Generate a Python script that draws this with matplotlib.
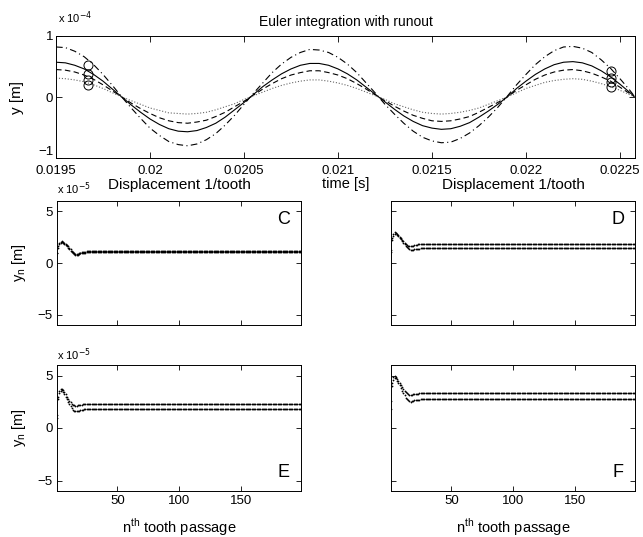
import numpy as np
import matplotlib
matplotlib.use("Agg")
import matplotlib.pyplot as plt

plt.rcParams['font.family'] = ['Liberation Sans', 'DejaVu Sans']
plt.rcParams['xtick.direction'] = 'in'
plt.rcParams['ytick.direction'] = 'in'
plt.rcParams['xtick.top'] = True
plt.rcParams['ytick.right'] = True

# ---- top panel: time signals (units of 1e-4 m) ----
t_start = 0.0195
t_step = 0.00005
t_end = 0.02258
time_s = list(np.round(t_start + t_step * np.arange(62), 6)) + [t_end]

y_solid = [0.57, 0.56, 0.52, 0.46, 0.37, 0.26, 0.13, 0.00, -0.13, -0.25, -0.36,
           -0.45, -0.52, -0.56, -0.57, -0.55, -0.50, -0.43, -0.33, -0.21, -0.09,
           0.04, 0.17, 0.28, 0.38, 0.46, 0.52, 0.55, 0.55, 0.52, 0.46, 0.38, 0.28,
           0.16, 0.04,
           -0.08, -0.20, -0.31, -0.40, -0.47, -0.51, -0.53, -0.52, -0.48, -0.42,
           -0.33, -0.23, -0.12,
           0.00, 0.14, 0.26, 0.37, 0.46, 0.53, 0.57, 0.58, 0.56, 0.51, 0.43, 0.33,
           0.21, 0.08, 0.00]
y_dashed = [0.45, 0.44, 0.41, 0.36, 0.29, 0.20, 0.10, 0.00,
            -0.10, -0.19, -0.27, -0.34, -0.39, -0.42, -0.43, -0.41, -0.38, -0.32,
            -0.25, -0.16, -0.07,
            0.03, 0.13, 0.22, 0.30, 0.36, 0.40, 0.43, 0.43, 0.40, 0.36, 0.30, 0.22,
            0.13, 0.03,
            -0.06, -0.15, -0.23, -0.30, -0.35, -0.39, -0.40, -0.39, -0.36, -0.32,
            -0.25, -0.17, -0.09,
            0.00, 0.11, 0.20, 0.29, 0.36, 0.41, 0.44, 0.45, 0.43, 0.39, 0.33, 0.26,
            0.16, 0.06, 0.00]
y_dotted = [0.31, 0.30, 0.28, 0.25, 0.20, 0.14, 0.07, 0.00,
            -0.06, -0.12, -0.18, -0.22, -0.26, -0.27, -0.28, -0.27, -0.25, -0.21,
            -0.16, -0.11, -0.04,
            0.02, 0.08, 0.14, 0.19, 0.23, 0.26, 0.28, 0.28, 0.26, 0.23, 0.19, 0.14,
            0.08, 0.02,
            -0.04, -0.11, -0.16, -0.21, -0.25, -0.27, -0.28, -0.27, -0.25, -0.22,
            -0.18, -0.12, -0.06,
            0.00, 0.07, 0.14, 0.19, 0.24, 0.27, 0.29, 0.30, 0.29, 0.26, 0.22, 0.17,
            0.11, 0.04, 0.00]
y_dashdot = [0.82, 0.81, 0.75, 0.66, 0.53, 0.37, 0.19, 0.00,
             -0.18, -0.35, -0.51, -0.63, -0.73, -0.78, -0.80, -0.77, -0.70, -0.60,
             -0.46, -0.30, -0.12,
             0.06, 0.23, 0.40, 0.54, 0.65, 0.73, 0.78, 0.77, 0.73, 0.65, 0.54, 0.40,
             0.23, 0.06,
             -0.12, -0.28, -0.43, -0.56, -0.66, -0.72, -0.75, -0.74, -0.68, -0.59,
             -0.47, -0.33, -0.17,
             0.01, 0.20, 0.37, 0.53, 0.66, 0.76, 0.82, 0.83, 0.80, 0.73, 0.61, 0.47,
             0.30, 0.12, 0.00]

circ_t = [0.01967, 0.02245]
circ_left = [0.52, 0.38, 0.28, 0.20]
circ_right = [0.42, 0.31, 0.24, 0.17]

# ---- per-tooth displacement (units of 1e-5 m), transient then steady ----
n_teeth = 199
C_up = [1.0, 1.6, 1.9, 2.05, 2.1, 2.0, 1.9, 1.8, 1.7, 1.6, 1.5, 1.35, 1.2, 1.05,
        0.95, 0.9, 0.88, 0.9, 0.95, 1.0, 1.05, 1.08, 1.1, 1.1]
C_lo = [1.0, 1.5, 1.8, 1.95, 2.0, 1.9, 1.8, 1.7, 1.6, 1.5, 1.35, 1.2, 1.05, 0.95,
        0.85, 0.8, 0.8, 0.82, 0.88, 0.92, 0.96, 0.98, 1.0, 1.0]
C_steady = (1.12, 1.02)
D_up = [1.3, 2.4, 2.8, 3.0, 2.95, 2.85, 2.7, 2.55, 2.4, 2.25, 2.1, 1.95, 1.85,
        1.75, 1.68, 1.62, 1.6, 1.62, 1.66, 1.7, 1.75, 1.78, 1.8, 1.82]
D_lo = [1.1, 2.2, 2.6, 2.85, 2.9, 2.75, 2.6, 2.45, 2.3, 2.1, 1.95, 1.8, 1.65,
        1.55, 1.45, 1.35, 1.3, 1.28, 1.3, 1.33, 1.36, 1.38, 1.4, 1.4]
D_steady = (1.84, 1.42)
E_up = [1.2, 3.0, 3.5, 3.7, 3.75, 3.6, 3.4, 3.2, 3.0, 2.8, 2.6, 2.45, 2.3, 2.2,
        2.15, 2.12, 2.12, 2.15, 2.18, 2.2, 2.22, 2.25, 2.27, 2.28]
E_lo = [1.0, 2.8, 3.3, 3.55, 3.6, 3.45, 3.25, 3.0, 2.75, 2.5, 2.3, 2.1, 1.9,
        1.75, 1.65, 1.6, 1.58, 1.6, 1.65, 1.7, 1.73, 1.75, 1.77, 1.78]
E_steady = (2.3, 1.8)
F_up = [2.6, 4.3, 4.9, 5.0, 4.9, 4.7, 4.5, 4.3, 4.1, 3.9, 3.7, 3.55, 3.4, 3.3,
        3.2, 3.15, 3.15, 3.18, 3.2, 3.22, 3.25, 3.27, 3.28, 3.3]
F_lo = [1.85, 4.0, 4.6, 4.8, 4.75, 4.5, 4.3, 4.05, 3.8, 3.55, 3.3, 3.1, 2.9,
        2.75, 2.62, 2.55, 2.52, 2.55, 2.6, 2.63, 2.66, 2.68, 2.7, 2.7]
F_steady = (3.32, 2.72)


def full_series(trans, steady):
    return np.concatenate([trans, np.full(n_teeth - len(trans), steady)])


fig = plt.figure(figsize=(6.43, 5.37), dpi=100)
W, H = 643.0, 537.0


def box(l, t, r, b):
    return [l / W, 1 - b / H, (r - l) / W, (b - t) / H]


# top axes
ax = fig.add_axes(box(56, 36, 635, 158))
ax.plot(time_s, y_solid, '-', color='k', lw=0.8)
ax.plot(time_s, y_dashed, '--', color='k', lw=0.8, dashes=(5, 3))
ax.plot(time_s, y_dotted, ':', color='#666666', lw=0.8)
ax.plot(time_s, y_dashdot, '-.', color='k', lw=0.8, dashes=(6, 3, 1, 3))
ax.plot([circ_t[0]] * 4, circ_left, 'o', mfc='none', mec='k', ms=6.5, mew=0.7)
ax.plot([circ_t[1]] * 4, circ_right, 'o', mfc='none', mec='k', ms=6.5, mew=0.7)
ax.set_xlim(0.0195, t_end)
ax.set_ylim(-1, 1)
ax.set_xticks([0.0195, 0.02, 0.0205, 0.021, 0.0215, 0.022, 0.0225])
ax.set_xticklabels(['0.0195', '0.02', '0.0205', '0.021', '0.0215', '0.022', '0.0225'])
ax.set_yticks([-1, 0, 1])
ax.set_yticklabels(['\u22121', '0', '1'])
ax.tick_params(labelsize=9.5, length=4, width=0.6, pad=2)
ax.tick_params(axis='x', pad=5)
ax.get_yticklabels()[0].set_va('bottom')
ax.set_title('Euler integration with runout', fontsize=10, pad=7)
ax.set_xlabel('time [s]', fontsize=10.5, labelpad=0)
ax.set_ylabel('y [m]', fontsize=11, labelpad=10)
for s in ax.spines.values():
    s.set_linewidth(0.7)
fig.text(58 / W, 1 - 18 / H, r'x 10$^{-4}$', fontsize=8, va='center', ha='left')

panels = [
    ('C', C_up, C_lo, C_steady, box(57, 201, 301, 325), True, False, 'top'),
    ('D', D_up, D_lo, D_steady, box(391, 201, 635, 325), False, False, 'top'),
    ('E', E_up, E_lo, E_steady, box(57, 365, 301, 491), True, True, 'bottom'),
    ('F', F_up, F_lo, F_steady, box(391, 365, 635, 491), False, True, 'bottom'),
]
teeth = np.arange(1, n_teeth + 1)
for letter, up, lo, steady, rect, left, bottom, pos in panels:
    a = fig.add_axes(rect)
    a.plot(teeth, full_series(up, steady[0]), '.', color='k', ms=2.6, mew=0)
    a.plot(teeth, full_series(lo, steady[1]), '.', color='k', ms=2.6, mew=0)
    a.set_xlim(1, n_teeth)
    a.set_ylim(-6, 6)
    a.set_xticks([50, 100, 150])
    a.set_yticks([-5, 0, 5])
    a.set_yticklabels(['\u22125', '0', '5'])
    a.tick_params(labelsize=9.5, length=3.5, width=0.6, pad=3)
    if not left:
        a.tick_params(labelleft=False)
    else:
        a.set_ylabel(r'y$_\mathregular{n}$ [m]', fontsize=10.5, labelpad=7)
    if not bottom:
        a.tick_params(labelbottom=False)
        a.set_title('Displacement 1/tooth', fontsize=11, pad=9)
    else:
        a.set_xlabel(r'n$^\mathregular{th}$ tooth passage', fontsize=10.5, labelpad=7)
    for s in a.spines.values():
        s.set_linewidth(0.7)
    yy = 0.85 if pos == 'top' else 0.15
    a.text(0.93, yy, letter, transform=a.transAxes, fontsize=13,
           ha='center', va='center')

fig.text(57 / W, 1 - 189 / H, r'x 10$^{-5}$', fontsize=8, va='center', ha='left')
fig.text(57 / W, 1 - 355 / H, r'x 10$^{-5}$', fontsize=8, va='center', ha='left')

fig.savefig('out.png', dpi=100)
